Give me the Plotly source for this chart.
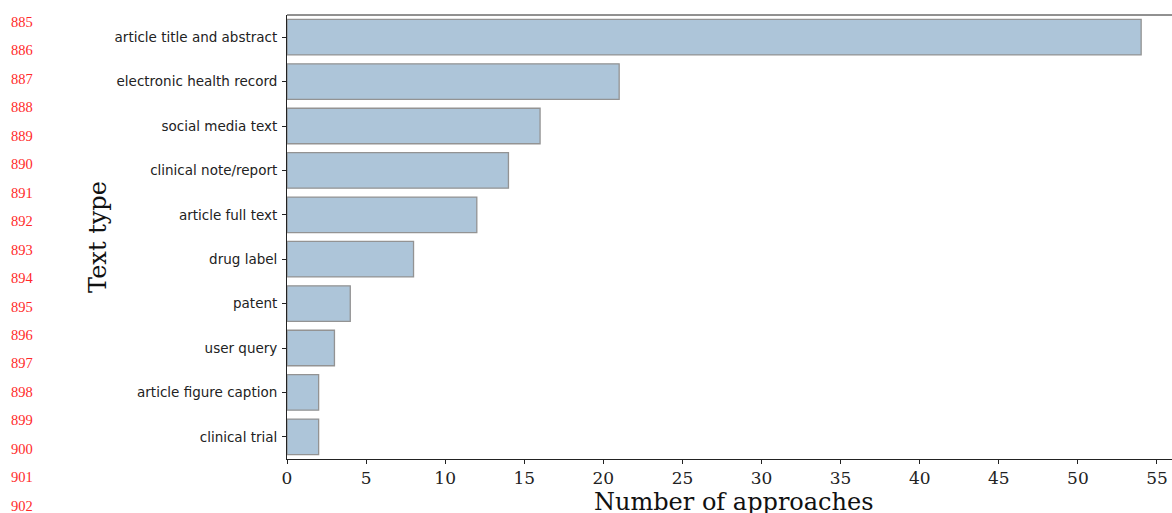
import plotly.graph_objects as go

# Text types and number of approaches using each
text_types = [
    "article title and abstract",
    "electronic health record",
    "social media text",
    "clinical note/report",
    "article full text",
    "drug label",
    "patent",
    "user query",
    "article figure caption",
    "clinical trial",
]
approach_counts = [54, 21, 16, 14, 12, 8, 4, 3, 2, 2]

# Manuscript line numbers printed in the left margin
line_numbers = list(range(885, 903))

W, H = 1172, 513
ML, MR, MT, MB = 287, 0, 15, 54
plot_w = W - ML - MR
plot_h = H - MT - MB


def px_to_paper_x(px):
    return (px - ML) / plot_w


def px_to_paper_y(py):
    return (H - MB - py) / plot_h


fig = go.Figure(
    go.Bar(
        x=approach_counts,
        y=text_types,
        orientation="h",
        width=0.8,
        marker=dict(color="#adc5d9", line=dict(color="#939393", width=1.3)),
    )
)

fig.update_layout(
    width=W,
    height=H,
    margin=dict(l=ML, r=MR, t=MT, b=MB),
    paper_bgcolor="white",
    plot_bgcolor="white",
    showlegend=False,
    bargap=0.2,
)

fig.update_xaxes(
    range=[0, 55.95],
    tickmode="array",
    tickvals=list(range(0, 60, 5)),
    ticks="outside",
    ticklen=4,
    tickwidth=1,
    tickcolor="#222",
    showline=True,
    linecolor="#222",
    linewidth=1,
    showgrid=False,
    zeroline=False,
    ticklabelstandoff=0,
    tickfont=dict(family="DejaVu Serif", size=17, color="#222"),
)

fig.update_yaxes(
    categoryorder="array",
    categoryarray=text_types,
    autorange=False,
    range=[len(text_types) - 0.5, -0.5],
    ticks="outside",
    ticklen=4,
    tickwidth=1,
    tickcolor="#222",
    showline=True,
    linecolor="#222",
    linewidth=1,
    showgrid=False,
    zeroline=False,
    ticklabelstandoff=2,
    tickfont=dict(family="DejaVu Sans", size=13.5, color="#222"),
)

# Top spine
fig.add_shape(
    type="line", xref="paper", yref="paper",
    x0=0, x1=1, y0=1, y1=1,
    line=dict(color="#222", width=1),
)

annotations = [
    dict(
        text="Number of approaches",
        xref="paper", yref="paper",
        x=px_to_paper_x(734), y=px_to_paper_y(502),
        xanchor="center", yanchor="middle",
        showarrow=False,
        font=dict(family="DejaVu Serif", size=24, color="#111"),
    ),
    dict(
        text="Text type",
        xref="paper", yref="paper",
        x=px_to_paper_x(98), y=px_to_paper_y(237),
        xanchor="center", yanchor="middle",
        textangle=-90,
        showarrow=False,
        font=dict(family="DejaVu Serif", size=24, color="#111"),
    ),
]

for i, n in enumerate(line_numbers):
    annotations.append(
        dict(
            text=str(n),
            xref="paper", yref="paper",
            x=px_to_paper_x(22), y=px_to_paper_y(22 + 28.45 * i),
            xanchor="center", yanchor="middle",
            showarrow=False,
            font=dict(family="Liberation Serif", size=14.5, color="#ff2a2a"),
        )
    )

fig.update_layout(annotations=annotations)

fig.write_html("out.html")
